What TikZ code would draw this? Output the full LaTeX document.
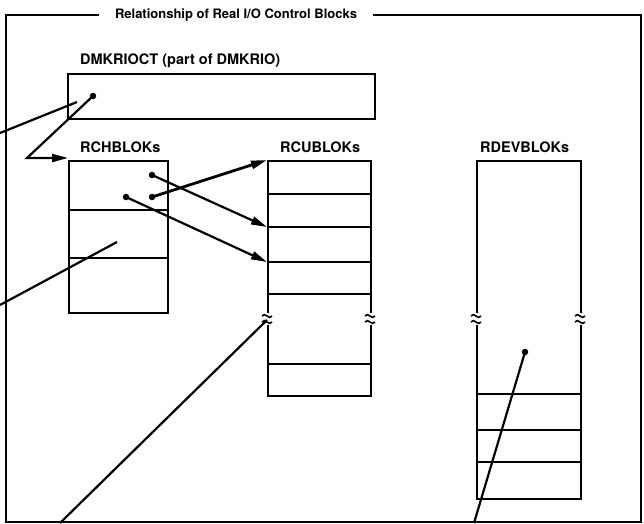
\documentclass[tikz,border=0pt]{standalone}
\usepackage{fontspec}
\setmainfont{TeX Gyre Heros}
\usetikzlibrary{positioning,arrows.meta,calc}

\begin{document}
\begin{tikzpicture}[x=1pt,y=-1pt,
  blk/.style={rectangle,draw,line width=2.2pt,inner sep=0pt,anchor=north west},
  lbl/.style={font=\fontsize{14.5}{16}\selectfont\bfseries,inner sep=0pt,anchor=base west},
  ptr/.style={line width=2.2pt},
  arr/.style={line width=2.2pt,-{Triangle[length=16pt,width=8pt]}},
  dot/.style={circle,fill,inner sep=0pt,minimum size=6.5pt},
  brk/.style={line width=1.6pt},
]
\useasboundingbox (0,0) rectangle (644,523);

% === frame and title ===
\draw[ptr] (6,15) rectangle (641,522);
\node[lbl,font=\fontsize{13}{15}\selectfont\bfseries,anchor=center,fill=white,inner xsep=16pt,inner ysep=3pt] (title) at (236,15) {Relationship of Real I/O Control Blocks};

% === DMKRIOCT ===
\node[lbl] (octlbl) at (80,64) {DMKRIOCT (part of DMKRIO)};
\node[blk,minimum width=307pt,minimum height=45pt] (oct) at (67,73) {};
\node[dot] (d0) at (93,96) {};

% === RCHBLOKs ===
\node[lbl] (rchlbl) at (80,152) {RCHBLOKs};
\node[blk,minimum width=99pt,minimum height=152pt] (rch) at (68,160) {};
\foreach \y in {210,258}
  \draw[ptr] (rch.west |- 0,\y) -- (rch.east |- 0,\y);
\node[dot] (d1) at (152,175) {};
\node[dot] (d2) at (152,197) {};
\node[dot] (d3) at (126,197) {};

% === RCUBLOKs ===
\node[lbl] (rculbl) at (280,152) {RCUBLOKs};
\node[blk,minimum width=103pt,minimum height=235pt] (rcu) at (267,160) {};
\foreach \y [count=\i] in {194,227,262,294,364} {
  \draw[ptr] (rcu.west |- 0,\y) -- (rcu.east |- 0,\y);
  \coordinate (rcu\i) at (rcu.west |- 0,\y);
}
\coordinate (rcubrk) at (rcu.west |- 0,320);

% === RDEVBLOKs ===
\node[lbl] (rdevlbl) at (480,152) {RDEVBLOKs};
\node[blk,minimum width=104pt,minimum height=338pt] (rdev) at (476,160) {};
\foreach \y in {394,430,462}
  \draw[ptr] (rdev.west |- 0,\y) -- (rdev.east |- 0,\y);
\node[dot] (d4) at (525,352) {};

% breaks in the long columns
\foreach \x in {267,370,476,580} {
  \fill[white] (\x-4,313) rectangle (\x+4,325);
  \draw[brk] (\x-5,316) .. controls (\x-2,311) and (\x+2,321) .. (\x+5,316);
  \draw[brk] (\x-5,322) .. controls (\x-2,317) and (\x+2,327) .. (\x+5,322);
}

% === pointers ===
\coordinate (bend) at (27,158);
\coordinate (inA) at (0,133);
\coordinate (tipA) at (77,102);
\coordinate (inB) at (0,305);
\coordinate (tipB) at (117,242);
\coordinate (inC) at (60,523);
\coordinate (inD) at (474,523);

\draw[ptr] (inA) -- (tipA);
\draw[arr] (d0.center) -- (bend) -- (bend -| rch.west);
\draw[ptr] (inB) -- (tipB);
\draw[arr] (d1.center) -- (rcu2);
\draw[arr,line width=2.8pt] (d2.center) -- (rcu.north west);
\draw[arr] (d3.center) -- (rcu3);
\draw[ptr] (inC) -- (rcubrk);
\draw[ptr] (inD) -- (d4.center);

\end{tikzpicture}
\end{document}
